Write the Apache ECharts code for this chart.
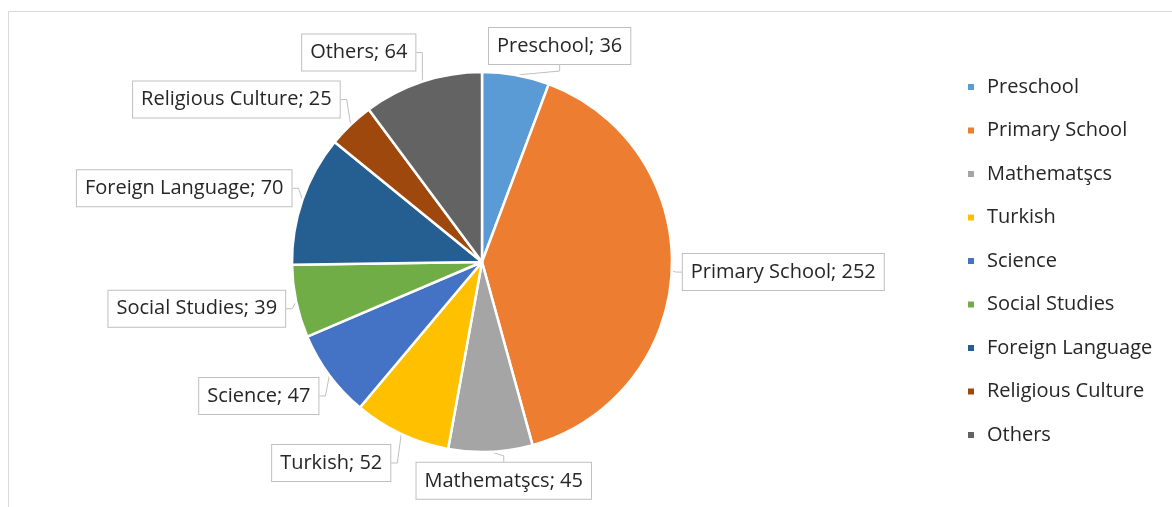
<!DOCTYPE html>
<html><head><meta charset="utf-8">
<script src="https://cdn.jsdelivr.net/npm/echarts@6/dist/echarts.min.js"></script>
<style>html,body{margin:0;padding:0;background:#fff}#c{width:1172px;height:507px}</style>
</head><body><div id="c"></div>
<script>
const categories = ['Preschool','Primary School','Mathematşcs','Turkish','Science','Social Studies','Foreign Language','Religious Culture','Others'];
const values = [36,252,45,52,47,39,70,25,64];
const colors = ['#5B9BD5','#ED7D31','#A5A5A5','#FFC000','#4472C4','#70AD47','#255E91','#9E480E','#636363'];

const CX = 482, CY = 262, R = 190, GAP = 10;
const total = values.reduce((a,b)=>a+b,0);
const midAngles = [];
(function(){ let acc=0; values.forEach(v=>{ midAngles.push((acc+v/2)/total*2*Math.PI); acc+=v; }); })();
const clamp = v => Math.max(-1, Math.min(1, v));

const chart = echarts.init(document.getElementById('c'));
chart.setOption({
  animation:false,
  color: colors,
  graphic:[{type:'rect',shape:{x:8.5,y:11.5,width:1300,height:700},style:{fill:'none',stroke:'#d9d9d9',lineWidth:1}}],
  legend:{
    orient:'vertical', left:961, top:71, icon:'rect', itemWidth:8, itemHeight:8, itemGap:21.5,
    textStyle:{fontFamily:'Open Sans',fontSize:20,color:'#262626',lineHeight:22,padding:[0,0,0,7]},
    data: categories
  },
  series:[{
    type:'pie', center:[CX,CY], radius:R, startAngle:90, clockwise:true,
    itemStyle:{borderColor:'#fff',borderWidth:2.5},
    data: categories.map((n,i)=>({name:n,value:values[i]})),
    label:{
      show:true, position:'outside', formatter:'{b}; {c}',
      fontFamily:'Open Sans', fontSize:20, lineHeight:22, color:'#262626',
      backgroundColor:'#fff', borderColor:'#bfbfbf', borderWidth:1, padding:[7,8,7,8]
    },
    labelLine:{show:true,length:10,length2:6,lineStyle:{color:'#bfbfbf',width:1}},
    labelLayout:function(p){
      const a = midAngles[p.dataIndex];
      const dx = Math.sin(a), dy = -Math.cos(a);
      const px = CX + dx*R, py = CY + dy*R;
      const hw = p.labelRect.width/2, hh = p.labelRect.height/2;
      return {x: px + clamp(3*dx)*(hw+GAP), y: py + clamp(1.2*dy)*(hh+GAP), align:'center', verticalAlign:'middle'};
    }
  }]
});
</script></body></html>
